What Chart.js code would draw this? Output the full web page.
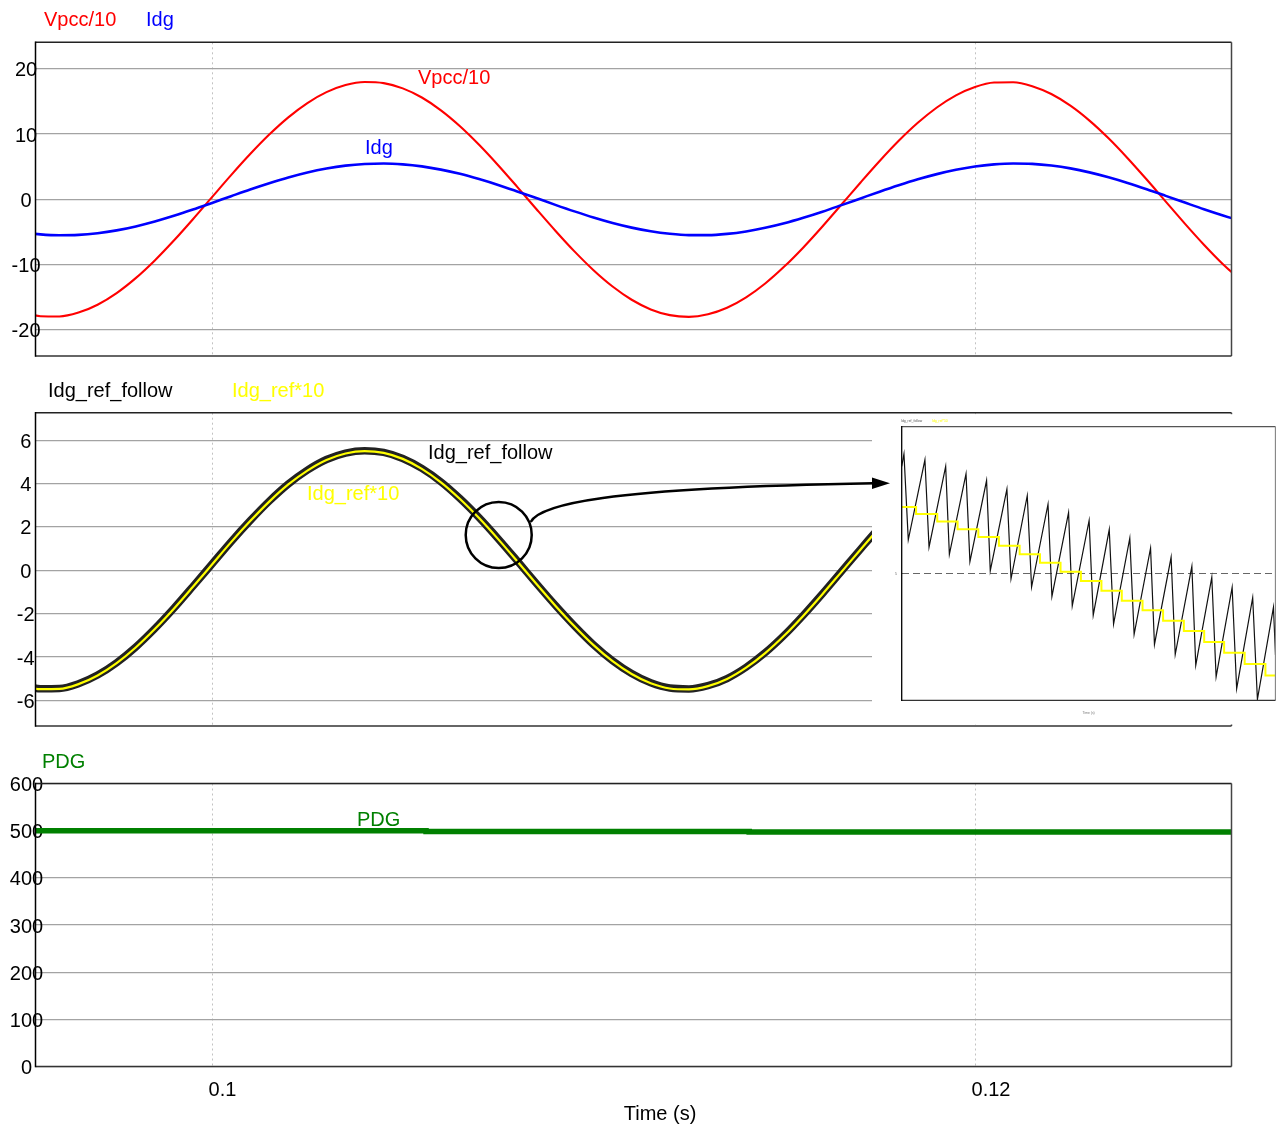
<!DOCTYPE html>
<html>
<head>
<meta charset="utf-8">
<script src="https://cdn.jsdelivr.net/npm/chart.js@4.4.1/dist/chart.umd.min.js"></script>
<style>
  html, body { margin: 0; padding: 0; background: #fff; }
  body { width: 1276px; height: 1127px; position: relative; overflow: hidden; }
  canvas { position: absolute; left: 0; }
</style>
</head>
<body>
<canvas id="c1" width="1276" height="370" style="top:0px"></canvas>
<canvas id="c2" width="1276" height="370" style="top:370px"></canvas>
<canvas id="c3" width="1276" height="387" style="top:740px"></canvas>
<canvas id="c4" width="384" height="308" style="top:415px;left:892px"></canvas>
<script>
// ---- sample times (s) ----
const timeS = [
  0.0950, 0.0955, 0.0960, 0.0965, 0.0970, 0.0975, 0.0980, 0.0985, 0.0990, 0.0995,
  0.1000, 0.1005, 0.1010, 0.1015, 0.1020, 0.1025, 0.1030, 0.1035, 0.1040, 0.1045,
  0.1050, 0.1055, 0.1060, 0.1065, 0.1070, 0.1075, 0.1080, 0.1085, 0.1090, 0.1095,
  0.1100, 0.1105, 0.1110, 0.1115, 0.1120, 0.1125, 0.1130, 0.1135, 0.1140, 0.1145,
  0.1150, 0.1155, 0.1160, 0.1165, 0.1170, 0.1175, 0.1180, 0.1185, 0.1190, 0.1195,
  0.1200, 0.1205, 0.1210, 0.1215, 0.1220, 0.1225, 0.1230, 0.1235, 0.1240, 0.1245,
  0.1250, 0.1255, 0.1260, 0.1265, 0.1270
];

// PCC voltage divided by 10
const vpcc10 = [
  -17.22, -17.90, -17.94, -17.35, -16.14, -14.36, -12.07, -9.36, -6.31, -3.04,
  0.34, 3.71, 6.94, 9.93, 12.57, 14.76, 16.43, 17.52, 17.98, 17.81,
  17.01, 15.61, 13.65, 11.21, 8.37, 5.24, 1.92, -1.47, -4.80, -7.97,
  -10.85, -13.35, -15.38, -16.86, -17.74, -18.00, -17.61, -16.61, -15.01, -12.89,
  -10.30, -7.36, -4.15, -0.79, 2.59, 5.88, 8.97, 11.73, 14.08, 15.94,
  17.22, 17.90, 17.94, 17.35, 16.14, 14.36, 12.07, 9.36, 6.31, 3.04,
  -0.34, -3.71, -6.94, -9.93, -12.57
];

// DG output current
const idg = [
  -5.04, -5.36, -5.50, -5.44, -5.18, -4.75, -4.14, -3.39, -2.52, -1.56,
  -0.54, 0.49, 1.51, 2.47, 3.35, 4.11, 4.72, 5.17, 5.43, 5.50,
  5.37, 5.06, 4.56, 3.91, 3.11, 2.21, 1.22, 0.20, -0.84, -1.84,
  -2.78, -3.62, -4.33, -4.89, -5.27, -5.47, -5.48, -5.29, -4.91, -4.36,
  -3.66, -2.82, -1.89, -0.88, 0.15, 1.18, 2.16, 3.07, 3.87, 4.53,
  5.04, 5.36, 5.50, 5.44, 5.18, 4.75, 4.14, 3.39, 2.52, 1.56,
  0.54, -0.49, -1.51, -2.47, -3.35
];

// current reference x10 (first 47 samples)
const idgRef10 = [
  -5.31, -5.48, -5.47, -5.25, -4.85, -4.28, -3.56, -2.71, -1.77, -0.76,
  0.27, 1.30, 2.27, 3.17, 3.96, 4.60, 5.09, 5.39, 5.50, 5.42,
  5.14, 4.68, 4.06, 3.29, 2.41, 1.44, 0.42, -0.62, -1.63, -2.58,
  -3.45, -4.19, -4.78, -5.21, -5.45, -5.49, -5.34, -5.01, -4.49, -3.82,
  -3.01, -2.09, -1.10, -0.07, 0.96, 1.96, 2.88
];

// tracked current (centre of the switching ripple band)
const idgRefFollow = [
  -5.29, -5.46, -5.45, -5.23, -4.83, -4.26, -3.54, -2.69, -1.75, -0.74,
  0.29, 1.32, 2.29, 3.19, 3.98, 4.62, 5.11, 5.41, 5.52, 5.44,
  5.16, 4.70, 4.08, 3.31, 2.43, 1.46, 0.44, -0.60, -1.61, -2.56,
  -3.43, -4.17, -4.76, -5.19, -5.43, -5.47, -5.32, -4.99, -4.47, -3.80,
  -2.99, -2.07, -1.08, -0.05, 0.98, 1.98, 2.90
];

// DG power
const pdgTime = [0.0950, 0.10561, 0.11408, 0.1270];
const pdgValue = [499.6, 498.1, 497.0, 497.0];

// magnified window: switching ripple (ms)
const sawTime = [
  106.600, 106.611, 106.632, 106.713, 106.733, 106.814, 106.832, 106.913, 106.932, 107.013,
  107.031, 107.112, 107.132, 107.211, 107.232, 107.312, 107.331, 107.412, 107.430, 107.512,
  107.532, 107.610, 107.631, 107.710, 107.731, 107.811, 107.830, 107.911, 107.931, 108.012,
  108.031, 108.109, 108.130, 108.208, 108.230, 108.308, 108.331, 108.409, 108.419
];
const sawValue = [
  9.26, 9.75, 6.35, 9.52, 6.06, 9.26, 5.78, 8.96, 5.49, 8.70,
  5.13, 8.36, 4.81, 8.10, 4.48, 7.76, 4.11, 7.43, 3.74, 7.12,
  3.37, 6.76, 3.02, 6.42, 2.61, 6.02, 2.21, 5.66, 1.81, 5.30,
  1.39, 4.87, 0.93, 4.47, 0.46, 4.06, 0.04, 3.68, 1.79
];
// magnified window: sampled reference staircase
const stepTime = [
  106.600, 106.670, 106.773, 106.872, 106.973, 107.073, 107.174, 107.273, 107.373, 107.472,
  107.572, 107.671, 107.772, 107.872, 107.973, 108.072, 108.169, 108.269, 108.370, 108.419
];
const stepValue = [
  7.65, 7.37, 7.08, 6.77, 6.46, 6.12, 5.78, 5.44, 5.09, 4.72,
  4.34, 3.94, 3.56, 3.15, 2.74, 2.31, 1.88, 1.44, 0.98, 0.98
];

// ---- axis ticks ----
const timeTicks = [0.1, 0.12];
const vTicks = [-20, -10, 0, 10, 20];
const iTicks = [-6, -4, -2, 0, 2, 4, 6];
const pTicks = [0, 100, 200, 300, 400, 500, 600];
const zoomTicks = [5];

const T_MIN = 0.095373, T_MAX = 0.126723;
const FONT = "'Liberation Sans', Arial, Helvetica, sans-serif";
Chart.defaults.font.family = FONT;
Chart.defaults.font.size = 20;
Chart.defaults.color = '#000';

const pts = (xs, ys) => ys.map((y, i) => ({ x: xs[i], y }));

// frame, legend keys, in-plot labels, magnifier circle + arrow
const decor = {
  id: 'decor',
  afterDraw(chart, args, o) {
    const ctx = chart.ctx, a = chart.chartArea;
    const xs = chart.scales.x, ys = chart.scales.y;
    const sets = chart.data.datasets;
    ctx.save();
    const fw = o.frameWidth || 1.5;
    ctx.lineWidth = fw;
    ctx.strokeStyle = o.topColor || '#222';
    ctx.beginPath(); ctx.moveTo(a.left, a.top); ctx.lineTo(a.right, a.top); ctx.stroke();
    ctx.strokeStyle = o.rightColor || '#444';
    ctx.beginPath(); ctx.moveTo(a.right, a.top); ctx.lineTo(a.right, a.bottom); ctx.stroke();
    ctx.strokeStyle = o.bottomColor || '#333';
    ctx.beginPath(); ctx.moveTo(a.left, a.bottom); ctx.lineTo(a.right, a.bottom); ctx.stroke();
    ctx.strokeStyle = '#000';
    ctx.beginPath(); ctx.moveTo(a.left, a.top - fw / 2); ctx.lineTo(a.left, a.bottom + fw / 2); ctx.stroke();

    if (o.coverFrom) {
      ctx.fillStyle = '#fff';
      ctx.fillRect(o.coverFrom, a.top + 1.5, chart.width - o.coverFrom, a.bottom - a.top - 3);
    }

    const fs = o.fontSize || 20;
    ctx.font = fs + 'px ' + FONT;
    ctx.textAlign = 'left';
    ctx.textBaseline = 'middle';
    (o.keys || []).forEach(k => {
      const d = sets[k.ds];
      ctx.fillStyle = k.color || d.borderColor;
      ctx.fillText(d.label, k.left, k.mid);
    });
    (o.notes || []).forEach(n => {
      const d = sets[n.ds];
      ctx.fillStyle = n.color || d.borderColor;
      ctx.fillText(d.label, xs.getPixelForValue(n.t), ys.getPixelForValue(n.v));
    });
    if (o.axisTitle) {
      ctx.fillStyle = '#000';
      ctx.textAlign = 'center';
      ctx.fillText(o.axisTitle.text, o.axisTitle.cx, o.axisTitle.mid);
    }

    if (o.lens) {
      const L = o.lens;
      const cx = xs.getPixelForValue(L.t), cy = ys.getPixelForValue(L.v);
      ctx.strokeStyle = '#000';
      ctx.fillStyle = '#000';
      ctx.lineWidth = 2.5;
      ctx.beginPath(); ctx.arc(cx, cy, L.r, 0, Math.PI * 2); ctx.stroke();
      const ey = cy - 51.7, ex = L.tipX - 17;
      ctx.beginPath();
      ctx.moveTo(cx + 32, cy - 13);
      ctx.bezierCurveTo(cx + 41, cy - 30, cx + 101, cy - 47, ex, ey);
      ctx.stroke();
      ctx.beginPath();
      ctx.moveTo(L.tipX, ey);
      ctx.lineTo(ex - 1, ey - 5.7);
      ctx.lineTo(ex - 1, ey + 5.7);
      ctx.closePath();
      ctx.fill();
    }
    ctx.restore();
  }
};
Chart.register(decor);

function timeAxis(labelled) {
  return {
    type: 'linear', min: T_MIN, max: T_MAX,
    afterBuildTicks: s => { s.ticks = timeTicks.map(v => ({ value: v })); },
    afterFit: s => { s.height = labelled ? 60.5 : 0; },
    grid: { color: '#c2c2c2', lineWidth: 1, drawTicks: false },
    border: { display: false, dash: [2, 3] },
    ticks: {
      display: labelled, align: 'start', labelOffset: -3.5, padding: 11.5,
      maxRotation: 0, autoSkip: false, color: '#000', font: { size: 20 },
      callback: v => String(v)
    }
  };
}
// labels are mirrored so they may straddle the left frame line, centred on x≈26
function valueAxis(min, max, list, pad) {
  return {
    type: 'linear', min, max,
    afterBuildTicks: s => { s.ticks = list.map(v => ({ value: v })); },
    afterFit: s => { s.width = 35.5; },
    grid: { color: '#a3a3a3', lineWidth: 1.3, drawTicks: false },
    border: { display: false },
    ticks: { mirror: true, crossAlign: 'center', padding: pad, labelOffset: 2,
             color: '#000', font: { size: 20 }, callback: v => String(v) }
  };
}
const lineBase = { pointRadius: 0, fill: false, cubicInterpolationMode: 'monotone', clip: 0 };
const common = { responsive: false, animation: false, events: [] };

// Vpcc/10 and Idg
new Chart(document.getElementById('c1'), {
  type: 'line',
  data: { datasets: [
    { ...lineBase, label: 'Idg', data: pts(timeS, idg), borderColor: '#0000ff', borderWidth: 2.6, order: 0 },
    { ...lineBase, label: 'Vpcc/10', data: pts(timeS, vpcc10), borderColor: '#ff0000', borderWidth: 2.1, order: 1 }
  ]},
  options: { ...common,
    layout: { padding: { left: 0, top: 42.3, right: 44.5, bottom: 14 } },
    scales: { x: timeAxis(false), y: valueAxis(-24, 24.07, vTicks, -23.9) },
    plugins: { legend: { display: false }, tooltip: { enabled: false },
      decor: {
        keys: [{ ds: 1, left: 44, mid: 20 }, { ds: 0, left: 146, mid: 20 }],
        notes: [{ ds: 1, t: 0.1054, v: 18.5 }, { ds: 0, t: 0.10401, v: 7.8 }]
      } }
  }
});

// Idg_ref_follow and Idg_ref*10
new Chart(document.getElementById('c2'), {
  type: 'line',
  data: { datasets: [
    { ...lineBase, label: 'Idg_ref*10', data: pts(timeS, idgRef10), borderColor: '#ffff00', borderWidth: 2.2, order: 0 },
    { ...lineBase, label: 'Idg_ref_follow', data: pts(timeS, idgRefFollow), borderColor: '#222', borderWidth: 7.5, order: 1 }
  ]},
  options: { ...common,
    layout: { padding: { left: 0, top: 42.7, right: 44.5, bottom: 14 } },
    scales: { x: timeAxis(false), y: valueAxis(-7.18, 7.27, iTicks, -18.7) },
    plugins: { legend: { display: false }, tooltip: { enabled: false },
      decor: {
        coverFrom: 872,
        keys: [{ ds: 1, left: 48, mid: 21, color: '#000' }, { ds: 0, left: 232, mid: 21 }],
        notes: [{ ds: 1, t: 0.105662, v: 5.4, color: '#000' }, { ds: 0, t: 0.10249, v: 3.5 }],
        lens: { t: 0.107515, v: 1.63, r: 33, tipX: 890 }
      } }
  }
});

// PDG
new Chart(document.getElementById('c3'), {
  type: 'line',
  data: { datasets: [
    { ...lineBase, label: 'PDG', data: pts(pdgTime, pdgValue), stepped: true, borderColor: '#008000', borderWidth: 5.5 }
  ]},
  options: { ...common,
    layout: { padding: { left: 0, top: 43.5, right: 44.5, bottom: 0 } },
    scales: { x: timeAxis(true), y: valueAxis(0, 600, pTicks, -25.7) },
    plugins: { legend: { display: false }, tooltip: { enabled: false },
      decor: {
        keys: [{ ds: 0, left: 42, mid: 22 }],
        notes: [{ ds: 0, t: 0.103801, v: 522 }],
        axisTitle: { text: 'Time (s)', cx: 660, mid: 374 }
      } }
  }
});

// magnified view of the tracking ripple
new Chart(document.getElementById('c4'), {
  type: 'line',
  data: { datasets: [
    { label: 'Idg_ref*10', data: pts(stepTime, stepValue), stepped: true, pointRadius: 0,
      borderColor: '#ffff00', borderWidth: 2, order: 0, clip: 0 },
    { label: 'Idg_ref_follow', data: pts(sawTime, sawValue), pointRadius: 0, tension: 0,
      borderColor: '#111', borderWidth: 1.2, order: 1, clip: 0 }
  ]},
  options: { ...common,
    layout: { padding: { left: 0, top: 11.7, right: 0.5, bottom: 0 } },
    scales: {
      x: { type: 'linear', min: 106.6, max: 108.419,
           afterFit: s => { s.height = 22.7; },
           ticks: { display: false }, grid: { display: false }, border: { display: false },
           title: { display: true, text: 'Time (s)', color: '#777', font: { size: 3.4 },
                    padding: { top: 0, bottom: 8 } } },
      y: { type: 'linear', min: 0, max: 10.83,
           afterBuildTicks: s => { s.ticks = zoomTicks.map(v => ({ value: v })); },
           afterFit: s => { s.width = 9.7; },
           grid: { color: '#666', lineWidth: 1, drawTicks: false },
           border: { display: false, dash: [7, 4] },
           ticks: { mirror: true, crossAlign: 'center', padding: -6.6, color: '#666', font: { size: 3.4 },
                    callback: v => String(v) } }
    },
    plugins: { legend: { display: false }, tooltip: { enabled: false },
      decor: {
        fontSize: 3.4, frameWidth: 1.3,
        topColor: '#555', rightColor: '#888', bottomColor: '#333',
        keys: [{ ds: 1, left: 9, mid: 6, color: '#555' }, { ds: 0, left: 40, mid: 6 }]
      } }
  }
});
</script>
</body>
</html>
